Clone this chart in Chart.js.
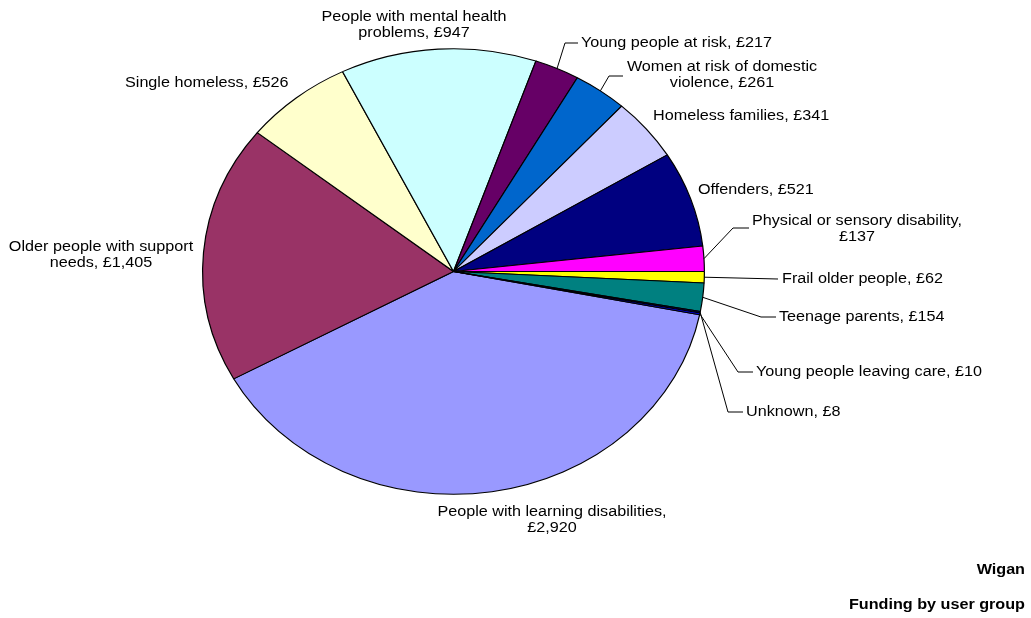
<!DOCTYPE html>
<html>
<head>
<meta charset="utf-8">
<script src="https://cdn.jsdelivr.net/npm/chart.js@4/dist/chart.umd.min.js"></script>
<style>
  html, body { margin: 0; padding: 0; background: #ffffff; }
  #wrap { width: 1031px; height: 618px; position: relative; }
</style>
</head>
<body>
<div id="wrap"><canvas id="pie" width="1031" height="618"></canvas></div>
<script>
// Supporting People funding in Wigan, by client group (£ thousands)
const categories = [
  'People with learning disabilities',
  'Older people with support needs',
  'Single homeless',
  'People with mental health problems',
  'Young people at risk',
  'Women at risk of domestic violence',
  'Homeless families',
  'Offenders',
  'Physical or sensory disability',
  'Frail older people',
  'Teenage parents',
  'Unknown',
  'Young people leaving care'
];
const funding = [2920, 1405, 526, 947, 217, 261, 341, 521, 137, 62, 154, 8, 10];
const sliceColors = [
  '#9999FF', '#993366', '#FFFFCC', '#CCFFFF', '#660066', '#0066CC', '#CCCCFF',
  '#000080', '#FF00FF', '#FFFF00', '#008080', '#000066', '#0000FF'
];
// Number of words placed on the first line of a wrapped label (0 = single line)
const firstLineWords = [4, 4, 0, 4, 0, 5, 0, 0, 4, 0, 0, 0, 0];
const titleLines = ['Wigan', 'Funding by user group'];

// Label layout: text anchor, alignment and optional leader-line bend points
const labelLayout = [
  { x: 552, y: 512, align: 'center' },
  { x: 101, y: 247, align: 'center' },
  { x: 125, y: 83,  align: 'left' },
  { x: 414, y: 17,  align: 'center' },
  { x: 581, y: 43,  align: 'left',   leader: [[565, 43], [578, 43]] },
  { x: 722, y: 67,  align: 'center', leader: [[609, 76], [623, 76]] },
  { x: 653, y: 116, align: 'left' },
  { x: 698, y: 190, align: 'left' },
  { x: 857, y: 221, align: 'center', leader: [[733, 228], [749, 228]] },
  { x: 782, y: 279, align: 'left',   leader: [[778, 279]] },
  { x: 779, y: 317, align: 'left',   leader: [[761, 317], [776, 317]] },
  { x: 746, y: 412, align: 'left',   leader: [[728, 412], [743, 412]] },
  { x: 756, y: 372, align: 'left',   leader: [[738, 372], [753, 372]] }
];

const FONT = '14px "Liberation Sans", Arial, sans-serif';
const BOLD = 'bold 14px "Liberation Sans", Arial, sans-serif';
const TEXT_STRETCH = 1.155;   // wide Arial-style lettering
const Y_SQUASH = 0.888;       // pie drawn as a flattened ellipse
const LINE_H = 16;

function labelText(i) {
  const full = categories[i] + ', £' + funding[i].toLocaleString('en-GB');
  const n = firstLineWords[i];
  if (!n) return [full];
  const words = full.split(' ');
  return [words.slice(0, n).join(' '), words.slice(n).join(' ')];
}

function wideText(ctx, text, x, y) {
  ctx.save();
  ctx.translate(x, y);
  ctx.scale(TEXT_STRETCH, 1);
  ctx.fillText(text, 0, 0);
  ctx.restore();
}

// Flattens the pie into an ellipse around its centre
const ellipsePlugin = {
  id: 'ellipse',
  beforeDatasetsDraw(chart) {
    const arc = chart.getDatasetMeta(0).data[0];
    const ctx = chart.ctx;
    ctx.save();
    ctx.translate(arc.x, arc.y);
    ctx.scale(1, Y_SQUASH);
    ctx.translate(-arc.x, -arc.y);
  },
  afterDatasetsDraw(chart) {
    chart.ctx.restore();
  }
};

// Category labels with leader lines, plus the titles in the lower right
const labelPlugin = {
  id: 'sliceLabels',
  afterDraw(chart) {
    const ctx = chart.ctx;
    const arcs = chart.getDatasetMeta(0).data;
    ctx.save();
    ctx.font = FONT;
    ctx.fillStyle = '#000';
    ctx.strokeStyle = '#000';
    ctx.lineWidth = 1;
    ctx.textBaseline = 'middle';
    arcs.forEach((arc, i) => {
      const lay = labelLayout[i];
      const lines = labelText(i);
      if (lay.leader) {
        const mid = (arc.startAngle + arc.endAngle) / 2;
        const sx = arc.x + arc.outerRadius * Math.cos(mid);
        const sy = arc.y + arc.outerRadius * Math.sin(mid) * Y_SQUASH;
        ctx.beginPath();
        ctx.moveTo(sx, sy);
        lay.leader.forEach(p => ctx.lineTo(p[0], p[1]));
        ctx.stroke();
      }
      ctx.textAlign = lay.align;
      lines.forEach((t, k) => wideText(ctx, t, lay.x, lay.y + k * LINE_H));
    });
    ctx.font = BOLD;
    ctx.textAlign = 'right';
    wideText(ctx, titleLines[0], 1025, 570);
    wideText(ctx, titleLines[1], 1025, 605);
    ctx.restore();
  }
};

new Chart(document.getElementById('pie'), {
  type: 'pie',
  data: {
    labels: categories,
    datasets: [{
      data: funding,
      backgroundColor: sliceColors,
      borderColor: '#000000',
      borderWidth: 1.2
    }]
  },
  options: {
    responsive: false,
    animation: false,
    rotation: 101.2,
    layout: { padding: { left: 202, right: 326, top: 20, bottom: 95 } },
    plugins: {
      legend: { display: false },
      tooltip: { enabled: false },
      title: { display: false }
    }
  },
  plugins: [ellipsePlugin, labelPlugin]
});
</script>
</body>
</html>
